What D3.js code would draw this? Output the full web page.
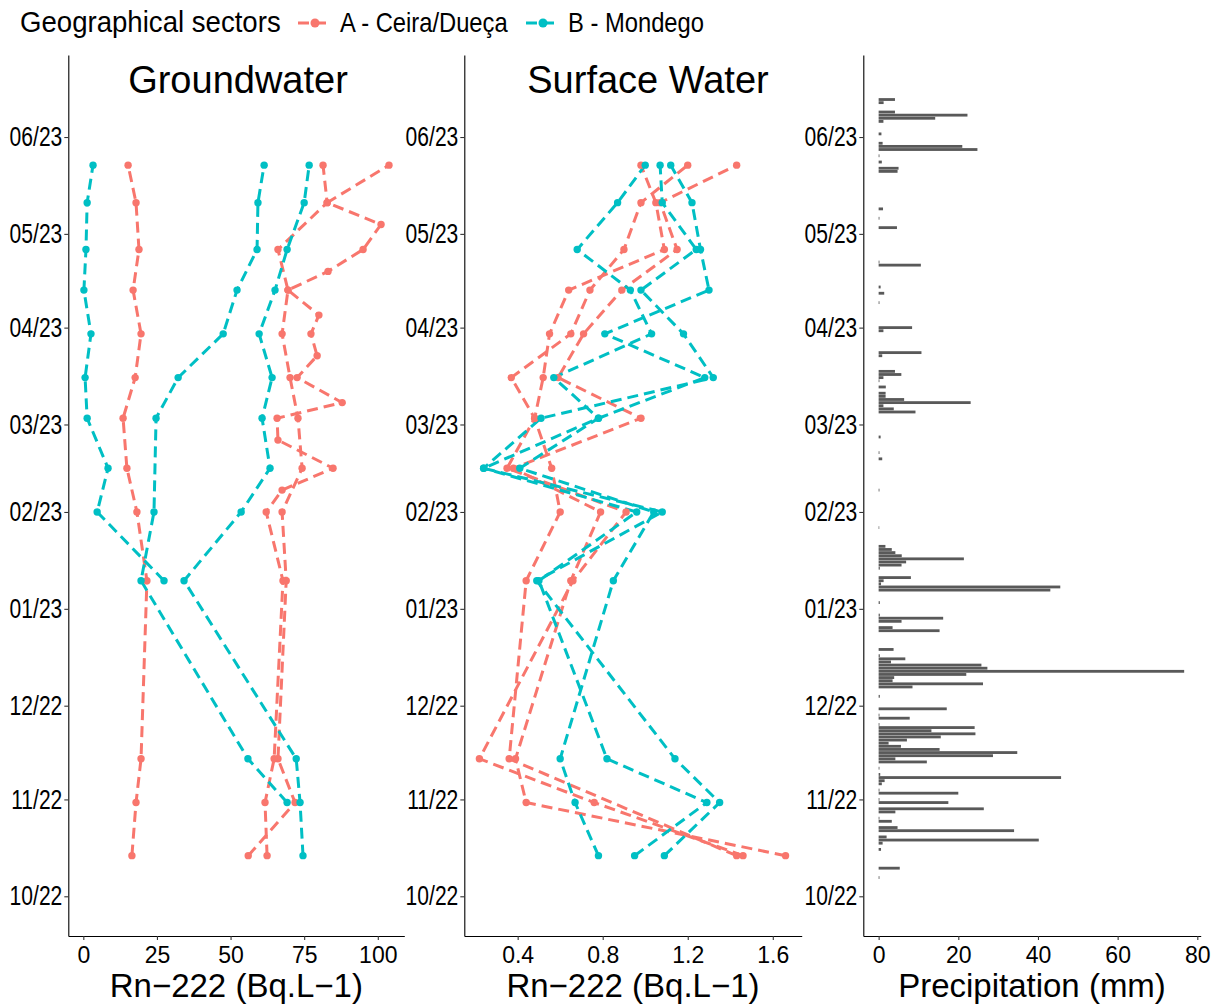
<!DOCTYPE html>
<html>
<head>
<meta charset="utf-8">
<script src="https://cdn.jsdelivr.net/npm/d3@7"></script>
<style>
    body { margin: 0; background: #fff; }
    text { font-family: "Liberation Sans", Arial, Helvetica, sans-serif; fill: #000; }
</style>
</head>
<body>
<svg id="chart" width="1212" height="1007"></svg>
<script>
    /* -----------------------------
       1. Data
    ------------------------------*/
    const sectors = ["A - Ceira/Dueça", "B - Mondego"];
    const sectorColors = ["#F8766D", "#00BFC4"];

    // monthly-ish sampling campaigns
    const sampleDates = ["2022-10-14", "2022-10-31", "2022-11-14", "2023-01-10", "2023-02-01", "2023-02-15",
        "2023-03-03", "2023-03-16", "2023-03-30", "2023-04-13", "2023-04-26", "2023-05-11", "2023-05-23"];

    // Groundwater, Rn-222 (Bq/L)
    const gwA1 = [16.5, 17.9, 19.6, 21.6, 18.2, 14.8, 13.5, 17.6, 19.6, 16.9, 18.9, 17.9, 15.2];
    const gwA2 = [56.0, 71.9, 66.1, 68.9, 67.5, 74.3, 72.9, 70.2, 67.5, 69.5, 66.1, 82.8, 81.4];
    const gwA3Dates = ["2022-10-14", "2022-10-31", "2022-11-14", "2023-01-10", "2023-02-01", "2023-02-08",
        "2023-02-15", "2023-02-24", "2023-03-03", "2023-03-08", "2023-03-16", "2023-03-23", "2023-03-30",
        "2023-04-05", "2023-04-13", "2023-04-19", "2023-04-26", "2023-05-04", "2023-05-11", "2023-05-23"];
    const gwA3 = [62.4, 61.7, 64.8, 67.8, 62.1, 67.5, 84.8, 66.1, 65.8, 87.9, 72.6, 79.4, 77.3,
        80.0, 69.5, 83.1, 95.0, 101.1, 82.8, 103.8];
    const gwB1 = [null, null, null, 27.4, 4.7, 8.4, 1.3, 0.6, 2.6, 0.2, 0.9, 1.3, 3.3];
    const gwB2 = [null, 69.2, 55.9, 19.6, 24.0, null, 24.7, 32.2, 47.5, 52.2, 59.0, 59.3, 61.4];
    const gwB3 = [74.6, 73.6, 72.3, 34.2, 53.6, 63.4, 60.7, 64.1, 59.7, 65.1, 69.2, 75.0, 76.7];

    // Surface water, Rn-222 (Bq/L)
    const swA1 = [1.46, 0.76, 0.22, 0.66, 0.91, 0.35, 0.48, 0.37, 0.65, 0.74, 0.90, 0.98, 1.20];
    const swA2 = [1.43, null, 0.36, 0.44, 0.60, 0.56, 0.48, 0.52, 0.55, 0.64, 1.09, 1.05, 0.98];
    const swA3 = [1.66, 0.44, 0.39, 0.65, 0.79, 0.38, 0.98, 0.59, 0.71, 0.89, 1.15, 1.07, 1.43];
    const swB1 = [0.78, 0.67, 0.60, 0.85, 1.04, 0.41, 0.78, 0.57, 1.03, 0.93, 0.68, 0.87, 1.00];
    const swB2 = [0.95, 1.29, 0.82, 0.50, 0.96, 0.24, 0.51, 1.32, 1.18, 0.98, 1.24, 1.08, 1.07];
    const swB3 = [1.09, 1.35, 1.14, 0.49, 1.08, 0.24, 0.78, 1.28, 0.81, 1.30, 1.26, 1.22, 1.12];

    // Daily precipitation (mm), rainy days only
    const precipDates = [
        "2022-10-07", "2022-10-10", "2022-10-16", "2022-10-18", "2022-10-19", "2022-10-20", "2022-10-22",
        "2022-10-23", "2022-10-25", "2022-10-26", "2022-10-28", "2022-10-29", "2022-10-31", "2022-11-01",
        "2022-11-03", "2022-11-04", "2022-11-06", "2022-11-07", "2022-11-08", "2022-11-09", "2022-11-11",
        "2022-11-13", "2022-11-14", "2022-11-15", "2022-11-16", "2022-11-17", "2022-11-18", "2022-11-19",
        "2022-11-20", "2022-11-21", "2022-11-22", "2022-11-23", "2022-11-24", "2022-11-25", "2022-11-27",
        "2022-11-28", "2022-11-30", "2022-12-04", "2022-12-07", "2022-12-08", "2022-12-09", "2022-12-10",
        "2022-12-11", "2022-12-12", "2022-12-13", "2022-12-14", "2022-12-15", "2022-12-16", "2022-12-17",
        "2022-12-19", "2022-12-25", "2022-12-26", "2022-12-28", "2022-12-29", "2022-12-30", "2023-01-03",
        "2023-01-07", "2023-01-08", "2023-01-09", "2023-01-10", "2023-01-11", "2023-01-14", "2023-01-15",
        "2023-01-16", "2023-01-17", "2023-01-18", "2023-01-19", "2023-01-20", "2023-01-21", "2023-01-27",
        "2023-02-08", "2023-02-18", "2023-02-20", "2023-02-25", "2023-03-05", "2023-03-06", "2023-03-07",
        "2023-03-08", "2023-03-09", "2023-03-10", "2023-03-11", "2023-03-13", "2023-03-15", "2023-03-16",
        "2023-03-17", "2023-03-18", "2023-03-23", "2023-03-24", "2023-03-31", "2023-04-01", "2023-04-09",
        "2023-04-12", "2023-04-14", "2023-04-21", "2023-04-22", "2023-05-03", "2023-05-06", "2023-05-09",
        "2023-05-21", "2023-05-22", "2023-05-24", "2023-05-26", "2023-05-28", "2023-05-29", "2023-05-30",
        "2023-06-02", "2023-06-06", "2023-06-07", "2023-06-08", "2023-06-09", "2023-06-12", "2023-06-13"];
    const precipMm = [
        0.2, 5.3, 0.6, 1.0, 40.2, 2.0, 34.0,
        4.75, 3.3, 0.2, 4.2, 26.4, 17.5, 0.2,
        20.0, 0.2, 0.8, 1.5, 45.8, 0.4, 0.2,
        12.1, 4.2, 28.7, 34.8, 15.3, 5.6, 2.5,
        7.1, 15.6, 24.3, 13.25, 24.1, 0.2, 7.8,
        0.2, 17.1, 0.3, 8.5, 26.2, 3.5, 3.9,
        22.0, 76.7, 27.3, 25.8, 3.1, 6.7, 0.3,
        3.75, 15.3, 3.5, 5.75, 16.2, 0.3, 0.3,
        43.1, 45.6, 0.6, 1.25, 8.1, 0.3, 5.75,
        6.9, 21.4, 5.8, 4.2, 3.3, 1.7, 0.15,
        0.2, 0.9, 0.2, 0.5, 9.25, 3.8, 1.2,
        23.1, 6.4, 1.75, 1.75, 1.8, 0.2, 1.2,
        5.7, 4.1, 0.9, 10.75, 1.2, 8.4, 0.2,
        1.4, 0.5, 10.6, 0.2, 4.6, 0.2, 1.1,
        4.75, 5.0, 0.8, 0.2, 24.8, 21.0, 1.0,
        0.7, 1.2, 14.2, 22.3, 4.1, 1.25, 4.1];

    const monthTicks = ["2022-10-01", "2022-11-01", "2022-12-01", "2023-01-01", "2023-02-01",
        "2023-03-01", "2023-04-01", "2023-05-01", "2023-06-01"];
    const gwTicks = [0, 25, 50, 75, 100];
    const swTicks = [0.4, 0.8, 1.2, 1.6];
    const prTicks = [0, 20, 40, 60, 80];

    /* -----------------------------
       2. Helpers
    ------------------------------*/
    const parse = d3.utcParse("%Y-%m-%d");
    const DAY = 864e5;
    const NARROW = 0.78;   // date labels are set in a condensed face

    function series(dates, values, sector) {
        return dates.map((d, i) => ({ date: parse(d), value: values[i], sector }))
            .filter(p => p.value !== null);
    }

    const gwSeries = [
        series(sampleDates, gwA1, 0), series(sampleDates, gwA2, 0), series(gwA3Dates, gwA3, 0),
        series(sampleDates, gwB1, 1), series(sampleDates, gwB2, 1), series(sampleDates, gwB3, 1)
    ];
    const swSeries = [
        series(sampleDates, swA1, 0), series(sampleDates, swA2, 0), series(sampleDates, swA3, 0),
        series(sampleDates, swB1, 1), series(sampleDates, swB2, 1), series(sampleDates, swB3, 1)
    ];
    const precip = precipDates.map((d, i) => ({ date: parse(d), value: precipMm[i] }));

    /* -----------------------------
       3. Layout + shared y scale
    ------------------------------*/
    const svg = d3.select('#chart');
    const plotTop = 55, plotBottom = 936;

    const y = d3.scaleUtc()
        .domain([new Date(Date.UTC(2022, 8, 18, 7)), new Date(Date.UTC(2023, 5, 27, 6))])
        .range([plotBottom, plotTop]);

    const panels = [
        { left: 68.3, right: 404.3, domain: [-5.1, 109.0], ticks: gwTicks, fmt: d3.format('d'), title: 'Groundwater', titleX: 238 },
        { left: 464.3, right: 801.7, domain: [0.149, 1.736], ticks: swTicks, fmt: d3.format('.1f'), title: 'Surface Water', titleX: 648 },
        { left: 863.3, right: 1200.7, domain: [-3.85, 80.85], ticks: prTicks, fmt: d3.format('d'), title: null }
    ];

    panels.forEach(p => {
        p.x = d3.scaleLinear().domain(p.domain).range([p.left, p.right]);
        p.g = svg.append('g');
    });

    function drawAxes(p, xTitle) {
        const gy = p.g.append('g')
            .attr('transform', `translate(${p.left},0)`)
            .call(d3.axisLeft(y).tickValues(monthTicks.map(parse)).tickFormat(d3.utcFormat('%m/%y'))
                .tickSize(4).tickSizeOuter(0).tickPadding(2));
        const gx = p.g.append('g')
            .attr('transform', `translate(0,${plotBottom})`)
            .call(d3.axisBottom(p.x).tickValues(p.ticks).tickFormat(p.fmt)
                .tickSize(4).tickSizeOuter(0).tickPadding(7));

        [gy, gx].forEach(ax => {
            ax.select('.domain').attr('stroke', '#000').attr('stroke-width', 1.1);
            ax.selectAll('.tick line').attr('stroke', '#333').attr('stroke-width', 1.1);
            ax.selectAll('.tick text').attr('fill', '#000')
                .style('font-family', '"Liberation Sans", Arial, sans-serif');
        });
        gx.selectAll('.tick text').style('font-size', '23px');
        gy.selectAll('.tick text')
            .style('font-size', '27px')
            .attr('x', -6 / NARROW)
            .attr('transform', `scale(${NARROW},1)`);

        p.g.append('text')
            .attr('x', (p.left + p.right) / 2)
            .attr('y', 997)
            .attr('text-anchor', 'middle')
            .style('font-size', '33px')
            .text(xTitle);

        if (p.title) {
            p.g.append('text')
                .attr('x', p.titleX)
                .attr('y', 93)
                .attr('text-anchor', 'middle')
                .style('font-size', '38px')
                .text(p.title);
        }
    }

    /* -----------------------------
       4. Rn-222 panels (lines + points)
    ------------------------------*/
    function drawRadon(p, data) {
        const line = d3.line()
            .x(d => p.x(d.value))
            .y(d => y(d.date));

        p.g.append('g').selectAll('path')
            .data(data)
            .join('path')
            .attr('d', line)
            .attr('fill', 'none')
            .attr('stroke', d => sectorColors[d[0].sector])
            .attr('stroke-width', 3)
            .attr('stroke-dasharray', '11,6');

        p.g.append('g').selectAll('circle')
            .data(data.flat())
            .join('circle')
            .attr('cx', d => p.x(d.value))
            .attr('cy', d => y(d.date))
            .attr('r', 3.7)
            .attr('fill', d => sectorColors[d.sector]);
    }

    drawRadon(panels[0], gwSeries);
    drawRadon(panels[1], swSeries);

    /* -----------------------------
       5. Precipitation bars
    ------------------------------*/
    const pr = panels[2];
    const barH = (y(parse('2023-01-01')) - y(new Date(parse('2023-01-01').getTime() + DAY))) * 0.9;

    pr.g.append('g').selectAll('rect')
        .data(precip)
        .join('rect')
        .attr('x', pr.x(0))
        .attr('y', d => y(d.date) - barH / 2)
        .attr('width', d => pr.x(d.value) - pr.x(0))
        .attr('height', barH)
        .attr('fill', '#595959');

    drawAxes(panels[0], 'Rn\u2212222 (Bq.L\u22121)');
    drawAxes(panels[1], 'Rn\u2212222 (Bq.L\u22121)');
    drawAxes(panels[2], 'Precipitation (mm)');

    /* -----------------------------
       6. Legend
    ------------------------------*/
    const legend = svg.append('g');
    legend.append('g')
        .attr('transform', 'translate(20,32)')
        .append('text')
        .attr('transform', 'scale(0.92,1)')
        .style('font-size', '30px')
        .text('Geographical sectors');

    const keyX = [315, 543];
    sectors.forEach((s, i) => {
        const k = legend.append('g').attr('transform', `translate(${keyX[i]},23)`);
        k.append('line')
            .attr('x1', -17).attr('x2', 17)
            .attr('stroke', sectorColors[i])
            .attr('stroke-width', 3)
            .attr('stroke-dasharray', '11,6');
        k.append('circle').attr('r', 4.5).attr('fill', sectorColors[i]);
        legend.append('g')
            .attr('transform', `translate(${keyX[i] + 25},32)`)
            .append('text')
            .attr('transform', 'scale(0.88,1)')
            .style('font-size', '27px')
            .text(s);
    });
</script>
</body>
</html>
